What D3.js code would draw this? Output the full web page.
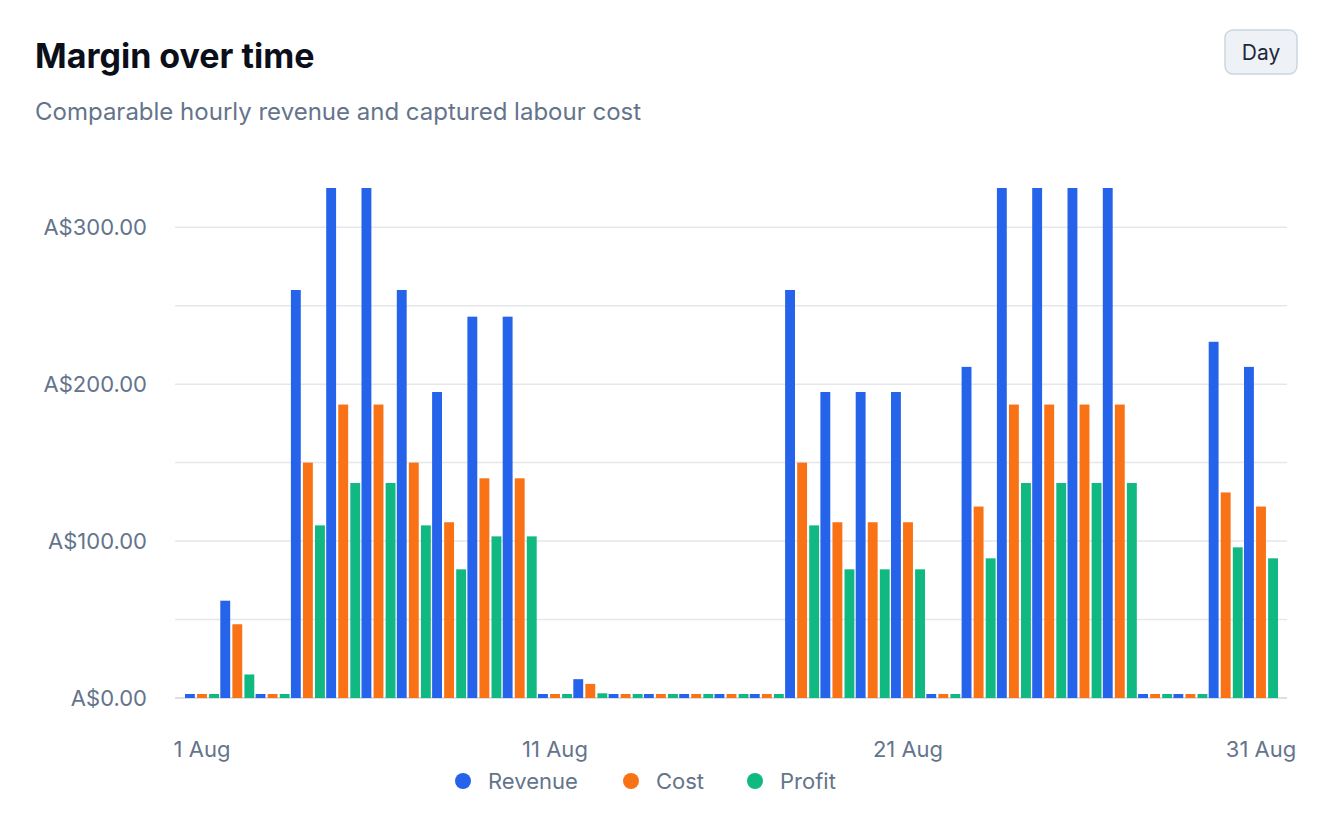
<!DOCTYPE html>
<html>
<head>
<meta charset="utf-8">
<script src="https://cdn.jsdelivr.net/npm/d3@7"></script>
<style>
  body { margin: 0; background: #fff; font-family: Inter, "Noto Sans", sans-serif; }
</style>
</head>
<body>
<svg id="chart" width="1327" height="835"></svg>
<script>
// Values per day of August
const days = d3.range(1, 32);
const revenue = [0, 62, 0, 260, 325, 325, 260, 195, 243, 243, 0, 12, 0, 0, 0, 0, 0, 260, 195, 195, 195, 0, 211, 325, 325, 325, 325, 0, 0, 227, 211];
const cost    = [0, 47, 0, 150, 187, 187, 150, 112, 140, 140, 0, 9, 0, 0, 0, 0, 0, 150, 112, 112, 112, 0, 122, 187, 187, 187, 187, 0, 0, 131, 122];
const profit  = [0, 15, 0, 110, 137, 137, 110, 82, 103, 103, 0, 3, 0, 0, 0, 0, 0, 110, 82, 82, 82, 0, 89, 137, 137, 137, 137, 0, 0, 96, 89];
const seriesNames = ['Revenue', 'Cost', 'Profit'];
const colors = ['#2563eb', '#f97316', '#10b981'];
const yTicks = [0, 100, 200, 300];
const xTickDays = [1, 11, 21, 31];

const svg = d3.select('#chart');

svg.append('text').attr('x', 35).attr('y', 68)
    .attr('font-size', 34).attr('font-weight', 700).attr('fill', '#0b0f19')
    .text('Margin over time');
svg.append('text').attr('x', 35).attr('y', 120)
    .attr('font-size', 24).attr('fill', '#64748b')
    .text('Comparable hourly revenue and captured labour cost');

// Day button
svg.append('rect').attr('x', 1225).attr('y', 30).attr('width', 72).attr('height', 44)
    .attr('rx', 8).attr('fill', '#eef2f7').attr('stroke', '#cbd5e1').attr('stroke-width', 1.5);
svg.append('text').attr('x', 1261).attr('y', 60).attr('text-anchor', 'middle')
    .attr('font-size', 21).attr('fill', '#1e293b').text('Day');

const y = d3.scaleLinear().domain([0, 325]).range([698, 188]);
const x = d3.scaleLinear().domain([1, 31]).range([202, 1261]);
const sub = d3.scaleBand().domain(seriesNames).range([-17, 17]).paddingInner(0.18);

// Grid every 50
svg.append('g').selectAll('line').data(d3.range(0, 325, 50)).join('line')
    .attr('x1', 175).attr('x2', 1287)
    .attr('y1', d => y(d)).attr('y2', d => y(d))
    .attr('stroke', d => d === 0 ? '#d1d5db' : '#e5e7eb').attr('stroke-width', 1.5);

svg.append('g').selectAll('text').data(yTicks).join('text')
    .attr('x', 147).attr('y', d => y(d) + 8).attr('text-anchor', 'end')
    .attr('font-size', 22).attr('fill', '#64748b')
    .text(d => 'A$' + d3.format(',.2f')(d));

svg.append('g').selectAll('text').data(xTickDays).join('text')
    .attr('x', d => x(d)).attr('y', 757).attr('text-anchor', 'middle')
    .attr('font-size', 22).attr('fill', '#64748b')
    .text(d => d + ' Aug');

const allSeries = [revenue, cost, profit];
allSeries.forEach((vals, i) => {
    svg.append('g').selectAll('rect').data(days).join('rect')
        .attr('x', d => x(d) + sub(seriesNames[i]))
        .attr('width', sub.bandwidth())
        .attr('y', d => Math.min(y(vals[d - 1]), y(0) - 4))
        .attr('height', d => Math.max(y(0) - y(vals[d - 1]), 4))
        .attr('fill', colors[i]);
});

// Legend
const legendX = [463, 631, 755];
const legend = svg.append('g').selectAll('g').data(seriesNames).join('g')
    .attr('transform', (d, i) => `translate(${legendX[i]},781)`);
legend.append('circle').attr('r', 8).attr('fill', (d, i) => colors[i]);
legend.append('text').attr('x', 25).attr('y', 8).attr('font-size', 22)
    .attr('fill', '#64748b').text(d => d);
</script>
</body>
</html>
